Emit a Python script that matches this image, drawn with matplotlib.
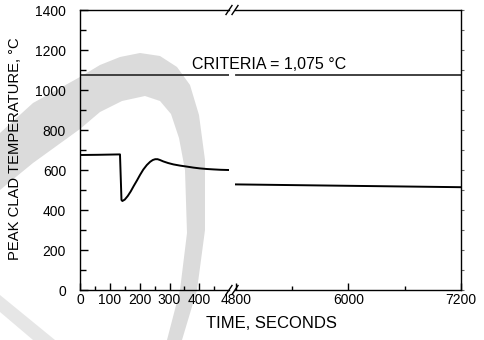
import numpy as np
import matplotlib.pyplot as plt
from matplotlib.patches import Polygon
from matplotlib.lines import Line2D

plt.rcParams['font.family'] = ['Liberation Sans', 'DejaVu Sans']

# peak clad temperature, first 500 s of the transient
t_early = [0, 60, 134, 139, 142, 150, 160, 170, 180, 191, 201, 212, 224, 235, 244, 252, 260,
           268, 279, 295, 313, 335, 358, 380, 402, 425, 447, 472, 497]
T_early = [675, 676, 678, 450, 445, 452, 470, 493, 520, 548, 575, 602, 625, 641, 650, 654, 654,
           650, 643, 635, 628, 622, 617, 612, 608, 605, 603, 601, 600]

# long term part after the break
t_late = [4800, 6000, 7200]
T_late = [528, 521, 514]

criteria = 1075

early_ticks = [0, 100, 200, 300, 400]
late_ticks = [4800, 6000, 7200]

W, H = 485, 340
fig = plt.figure(figsize=(W / 100, H / 100), dpi=100)


def fx(px):
    return px / W


def fy(py):
    return 1 - py / H


# faint background swoosh
swoosh_outer = [(0, 133), (33, 103), (80, 77), (100, 65), (120, 57), (140, 53), (160, 56),
                (177, 67), (190, 85), (199, 115), (205, 160), (205, 230), (197, 290), (182, 340)]
swoosh_inner = [(167, 340), (180, 290), (187, 233), (185, 170), (179, 138), (171, 114),
                (160, 101), (145, 96), (122, 101), (100, 112), (80, 129), (33, 163), (0, 190)]
pts = [(fx(x), fy(y)) for x, y in swoosh_outer + swoosh_inner]
fig.add_artist(Polygon(pts, closed=True, transform=fig.transFigure,
                       facecolor='#dbdbdb', edgecolor='none', zorder=-1))
pts = [(fx(x), fy(y)) for x, y in [(0, 295), (0, 312), (33, 340), (55, 340)]]
fig.add_artist(Polygon(pts, closed=True, transform=fig.transFigure,
                       facecolor='#e6e6e6', edgecolor='none', zorder=-1))

ax1 = fig.add_axes([fx(80), fy(290), fx(229.2) - fx(80), fy(10) - fy(290)])
ax2 = fig.add_axes([fx(234.8), fy(290), fx(461) - fx(234.8), fy(10) - fy(290)])

for ax in (ax1, ax2):
    ax.set_facecolor('none')
    ax.set_ylim(0, 1400)
    for s in ax.spines.values():
        s.set_linewidth(1.0)

ax1.set_xlim(0, 500)
ax2.set_xlim(4790, 7200)
ax1.spines['right'].set_visible(False)
ax2.spines['left'].set_visible(False)

ax1.plot(t_early, T_early, color='black', lw=1.4)
ax2.plot(t_late, T_late, color='black', lw=1.4)
ax1.plot([0, 500], [criteria, criteria], color='#333333', lw=1.3)
ax2.plot([4800, 7200], [criteria, criteria], color='#333333', lw=1.3)

ax1.text(375, criteria + 28, f'CRITERIA = {criteria:,} °C', fontsize=11.5,
         ha='left', va='baseline', clip_on=False)

# left axes ticks
ax1.set_xticks(early_ticks)
ax1.set_xticks(np.arange(50, 500, 100), minor=True)
ax1.set_yticks(np.arange(0, 1401, 200))
ax1.set_yticks(np.arange(100, 1400, 200), minor=True)
ax1.tick_params(which='both', direction='in', top=False, right=False, width=1.0)
ax1.tick_params(axis='x', which='major', length=5, pad=2, labelsize=10)
ax1.tick_params(axis='x', which='minor', length=3)
ax1.tick_params(axis='y', which='major', length=6, pad=10, labelsize=10)
ax1.tick_params(axis='y', which='minor', length=4)

# right axes ticks
ax2.set_xticks(late_ticks)
ax2.set_xticks([5400, 6600], minor=True)
ax2.tick_params(axis='x', which='both', direction='in', top=False, width=1.0)
ax2.tick_params(axis='x', which='major', length=5, pad=2, labelsize=10)
ax2.tick_params(axis='x', which='minor', length=3)
ax2.set_yticks(np.arange(0, 1401, 100))
ax2.tick_params(axis='y', left=False, labelleft=False, right=True, labelright=False,
                direction='out', length=2, width=0.8, color='#666666')

# break marks on top and bottom spines
for x in (229, 235):
    for y in (10, 290):
        fig.add_artist(Line2D([fx(x - 3), fx(x + 3)], [fy(y + 4.5), fy(y - 4.5)],
                              transform=fig.transFigure, color='black', lw=1.0))

fig.text(fx(15), fy(149), 'PEAK CLAD TEMPERATURE, °C', rotation=90,
         ha='center', va='center', fontsize=10.6)
fig.text(fx(271), fy(323), 'TIME, SECONDS', ha='center', va='center', fontsize=12)

fig.savefig('out.png', dpi=100)
